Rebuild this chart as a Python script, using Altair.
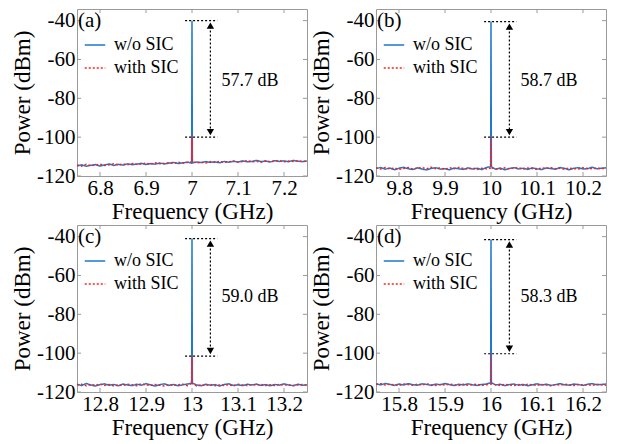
import altair as alt
import numpy as np
import pandas as pd

centers = [7.0, 10.0, 13.0, 16.0]
panel_labels = ["(a)", "(b)", "(c)", "(d)"]
notes = ["57.7 dB", "58.7 dB", "59.0 dB", "58.3 dB"]
peak_wo = [-40.0, -40.5, -41.0, -41.5]
peak_with = [-100.0, -100.0, -101.5, -100.3]
x_ticks = [
    [6.8, 6.9, 7.0, 7.1, 7.2],
    [9.8, 9.9, 10.0, 10.1, 10.2],
    [12.8, 12.9, 13.0, 13.1, 13.2],
    [15.8, 15.9, 16.0, 16.1, 16.2],
]
y_ticks = [-120, -100, -80, -60, -40]

a_blue = [-114.8, -114.2, -115.0, -114.5, -114.1, -114.9, -114.3, -113.8, -114.6, -114.0,
          -114.4, -113.7, -114.2, -113.9, -113.5, -114.1, -113.6, -113.9, -113.3, -113.8,
          -113.4, -113.0, -113.6, -113.2, -112.9, -113.3, -112.8, -113.1, -112.6, -113.0,
          -112.7, -113.2, -112.5, -112.9, -112.4, -112.8, -112.2, -112.7, -112.5, -112.0,
          -112.6, -112.3, -112.8, -112.1, -112.5, -112.2, -112.7, -112.0, -112.4, -112.6, -112.3]
a_red = [-114.3, -114.9, -114.0, -114.7, -114.4, -113.9, -114.6, -114.2, -113.7, -114.3,
         -113.8, -114.2, -113.6, -114.0, -113.8, -113.4, -113.9, -113.2, -113.7, -113.5,
         -113.1, -113.6, -112.9, -113.4, -113.0, -112.7, -113.2, -112.9, -113.3, -112.6,
         -113.0, -112.5, -112.9, -112.7, -112.3, -112.8, -112.6, -112.1, -112.7, -112.4,
         -112.9, -112.2, -112.6, -112.4, -112.0, -112.7, -112.3, -112.5, -112.1, -112.6, -112.2]
b_blue = [-116.2, -115.6, -116.5, -115.9, -116.8, -116.0, -115.5, -116.3, -116.7, -115.8,
          -116.4, -116.9, -116.1, -115.7, -116.5, -116.2, -116.8, -115.9, -116.3, -116.6,
          -115.8, -116.4, -116.0, -116.7, -115.6, -115.2, -116.5, -115.9, -116.8, -116.1,
          -115.7, -116.4, -116.0, -116.6, -115.8, -116.3, -116.7, -115.9, -116.2, -116.5,
          -115.6, -116.1, -116.8, -116.0, -115.7, -116.4, -116.2, -115.5, -116.3, -116.0, -115.8]
b_red = [-115.8, -116.4, -115.7, -116.3, -115.9, -116.6, -116.1, -115.6, -116.4, -116.0,
         -115.7, -116.3, -115.5, -116.2, -115.9, -116.5, -115.8, -116.2, -115.6, -116.1,
         -116.4, -115.9, -116.6, -116.0, -116.3, -115.9, -116.2, -116.5, -115.8, -116.3,
         -116.0, -115.7, -116.4, -115.9, -116.2, -116.6, -115.8, -116.1, -115.7, -116.3,
         -116.0, -116.5, -115.9, -116.2, -116.4, -115.8, -116.1, -116.3, -115.9, -116.2, -116.0]
c_blue = [-116.0, -116.7, -115.6, -116.4, -116.9, -116.2, -115.8, -116.5, -116.1, -116.8,
          -115.9, -116.4, -116.7, -116.0, -116.5, -115.7, -116.3, -116.9, -116.2, -115.8,
          -116.6, -116.1, -116.8, -116.3, -115.9, -115.4, -116.4, -116.8, -116.0, -116.5,
          -116.2, -116.9, -116.1, -115.8, -116.6, -116.3, -116.7, -116.0, -116.4, -115.9,
          -116.6, -116.2, -116.8, -116.1, -116.5, -115.8, -116.4, -116.7, -116.0, -116.5, -116.3]
c_red = [-116.4, -116.0, -116.8, -116.2, -116.5, -115.9, -116.6, -116.1, -116.9, -116.3,
         -116.6, -116.0, -116.3, -116.8, -115.8, -116.4, -116.7, -116.1, -116.5, -116.9,
         -116.2, -116.6, -116.3, -116.0, -116.7, -115.6, -116.9, -116.3, -116.6, -116.1,
         -116.8, -116.4, -116.6, -116.2, -116.9, -116.0, -116.4, -116.7, -116.2, -116.5,
         -116.1, -116.7, -116.3, -116.6, -116.0, -116.5, -116.2, -116.8, -116.4, -116.1, -116.6]
d_blue = [-115.8, -116.3, -115.6, -116.1, -116.6, -115.9, -116.4, -115.7, -116.2, -116.5,
          -115.8, -116.1, -116.6, -115.9, -116.3, -115.6, -116.2, -116.7, -116.0, -116.4,
          -115.8, -116.3, -116.6, -116.1, -115.9, -115.2, -116.4, -116.0, -116.7, -116.2,
          -115.9, -116.5, -116.1, -116.8, -116.3, -115.8, -116.4, -116.0, -116.6, -116.2,
          -115.7, -116.3, -116.5, -115.9, -116.2, -116.6, -116.0, -115.7, -116.3, -116.1, -115.9]
d_red = [-116.1, -115.7, -116.4, -116.0, -116.3, -116.7, -115.9, -116.2, -116.5, -116.0,
         -116.4, -115.8, -116.3, -116.6, -116.1, -116.4, -115.9, -116.3, -116.7, -116.0,
         -116.5, -116.2, -116.0, -116.6, -116.3, -115.8, -116.2, -116.6, -116.1, -116.4,
         -116.7, -116.2, -116.5, -116.0, -116.3, -116.6, -116.1, -116.4, -116.8, -116.2,
         -116.5, -116.0, -116.3, -116.7, -116.1, -116.4, -116.2, -116.6, -116.0, -116.3, -116.5]

blue_series = [a_blue, b_blue, c_blue, d_blue]
red_series = [a_red, b_red, c_red, d_red]

BLUE = "#1f78cc"
RED = "#ff1f1f"
GRAY = "#9a9a9a"
FONT = "Liberation Serif"
W, H = 230, 167


def panel(i):
    c = centers[i]
    rows = []
    for name, vals, pk in (("w/o SIC", blue_series[i], peak_wo[i]),
                           ("with SIC", red_series[i], peak_with[i])):
        n = len(vals)
        mid = n // 2
        offs = np.linspace(-0.25, 0.25, n)
        for k, (o, v) in enumerate(zip(offs, vals)):
            if k == mid:
                rows += [(name, c - 0.0008, v), (name, c, pk), (name, c + 0.0008, v)]
            else:
                rows.append((name, c + o, v))
    df = pd.DataFrame(rows, columns=["series", "f", "p"])

    xs = alt.Scale(domain=[c - 0.25, c + 0.25], nice=False, zero=False)
    ys = alt.Scale(domain=[-120, -34], nice=False, zero=False)
    common = dict(labelFont=FONT, titleFont=FONT, labelFontSize=21, titleFontSize=23,
                  labelColor="black", titleColor="black", titleFontWeight="normal",
                  labelFontWeight="normal", grid=False, domain=False, ticks=False)
    xax = alt.Axis(values=x_ticks[i], labelExpr="'' + datum.value", title="Frequency (GHz)",
                   labelPadding=1, titlePadding=2, **common)
    yax = alt.Axis(values=y_ticks, labelExpr="'' + datum.value", title="Power (dBm)",
                   labelPadding=2, titlePadding=2, **common)

    def X():
        return alt.X("f:Q", scale=xs, axis=xax)

    def Y():
        return alt.Y("p:Q", scale=ys, axis=yax)

    leg = alt.Legend(orient="none", legendX=7, legendY=25, title=None,
                     labelFont=FONT, labelFontSize=18)
    lines = alt.Chart(df).mark_line(strokeWidth=1.5, clip=True).encode(
        x=X(), y=Y(),
        color=alt.Color("series:N",
                        scale=alt.Scale(domain=["w/o SIC", "with SIC"], range=[BLUE, RED]),
                        legend=leg),
        strokeDash=alt.StrokeDash("series:N",
                                  scale=alt.Scale(domain=["w/o SIC", "with SIC"],
                                                  range=[[1, 0], [2, 2]]),
                                  legend=leg),
        order=alt.Order("f:Q"),
    )

    hdf = pd.DataFrame({"f": [c - 0.015, c - 0.015], "f2": [c + 0.055, c + 0.055],
                        "p": [peak_wo[i], peak_with[i]]})
    hrules = alt.Chart(hdf).mark_rule(color="black", strokeDash=[2, 2], strokeWidth=1.2).encode(
        x=X(), x2="f2:Q", y=Y())

    adf = pd.DataFrame({"f": [c + 0.04], "p": [peak_wo[i] - 3], "p2": [peak_with[i] + 3]})
    arrow = alt.Chart(adf).mark_rule(color="black", strokeDash=[2, 2], strokeWidth=1.2).encode(
        x=X(), y=Y(), y2="p2:Q")

    up = alt.Chart(pd.DataFrame({"f": [c + 0.04], "p": [peak_wo[i]]})).mark_point(
        shape="triangle-up", filled=True, color="black", size=55, opacity=1, yOffset=5).encode(
        x=X(), y=Y())
    down = alt.Chart(pd.DataFrame({"f": [c + 0.04], "p": [peak_with[i]]})).mark_point(
        shape="triangle-down", filled=True, color="black", size=55, opacity=1, yOffset=-5).encode(
        x=X(), y=Y())

    note = alt.Chart(pd.DataFrame({"f": [c + 0.064], "p": [-71.0], "t": [notes[i]]})).mark_text(
        align="left", baseline="middle", font=FONT, fontSize=18, color="black").encode(
        x=X(), y=Y(), text="t:N")

    lab = alt.Chart(pd.DataFrame({"t": [panel_labels[i]]})).mark_text(
        align="left", baseline="middle", font=FONT, fontSize=21, color="black").encode(
        x=alt.value(1), y=alt.value(12), text="t:N")

    xt = pd.DataFrame({"f": x_ticks[i]})
    xb = alt.Chart(xt).mark_rule(color=GRAY).encode(
        x=X(), y=alt.value(H), y2=alt.value(H - 4))
    xtop = alt.Chart(xt).mark_rule(color=GRAY).encode(
        x=X(), y=alt.value(0), y2=alt.value(4))
    yt = pd.DataFrame({"p": y_ticks})
    yl = alt.Chart(yt).mark_rule(color=GRAY).encode(
        y=Y(), x=alt.value(0), x2=alt.value(4))
    yr = alt.Chart(yt).mark_rule(color=GRAY).encode(
        y=Y(), x=alt.value(W), x2=alt.value(W - 4))

    return alt.layer(lines, xb, xtop, yl, yr, hrules, arrow, up, down, note, lab).properties(
        width=W, height=H)


indep = dict(x="independent", y="independent", color="independent", strokeDash="independent")
top = alt.hconcat(panel(0), panel(1), spacing=2).resolve_scale(**indep).resolve_legend(
    color="independent", strokeDash="independent")
bottom = alt.hconcat(panel(2), panel(3), spacing=2).resolve_scale(**indep).resolve_legend(
    color="independent", strokeDash="independent")

axis_font = dict(labelFont=FONT, titleFont=FONT, titleFontWeight="normal",
                 labelFontSize=21, titleFontSize=23, labelColor="black", titleColor="black")

chart = alt.vconcat(top, bottom, spacing=0).resolve_scale(**indep).resolve_legend(
    color="independent", strokeDash="independent").properties(
    padding={"left": 3, "top": 0, "right": 0, "bottom": 0}
).configure(
    font=FONT,
).configure_view(stroke=GRAY, strokeWidth=1).configure_axis(
    grid=False, domain=False, ticks=False, **axis_font
).configure_axisX(**axis_font).configure_axisY(**axis_font).configure_axisQuantitative(
    **axis_font
).configure_legend(
    labelFont=FONT, labelFontSize=18, labelColor="black", symbolType="stroke",
    symbolSize=420, symbolStrokeWidth=1.5, rowPadding=3, padding=0, labelOffset=8,
).configure_text(font=FONT)

chart.save("out.html", embed_options={"renderer": "svg", "actions": False})
